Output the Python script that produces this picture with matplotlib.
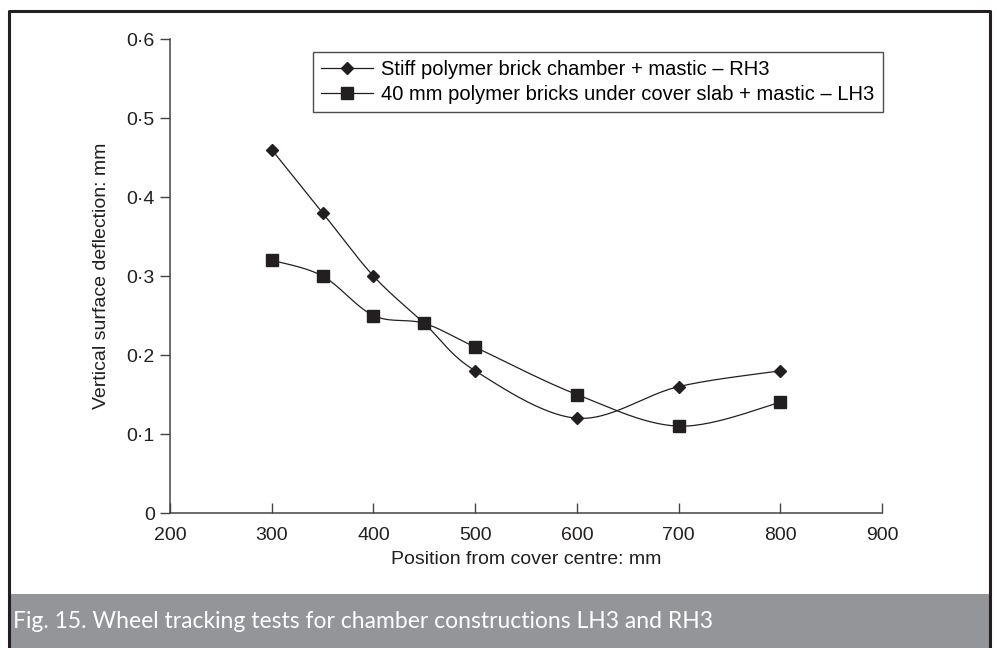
import numpy as np
import matplotlib.pyplot as plt
from matplotlib.patches import Rectangle

# Data
position = [300, 350, 400, 450, 500, 600, 700, 800]
rh3 = [0.46, 0.38, 0.30, 0.24, 0.18, 0.12, 0.16, 0.18]
lh3 = [0.32, 0.30, 0.25, 0.24, 0.21, 0.15, 0.11, 0.14]
xticks = [200, 300, 400, 500, 600, 700, 800, 900]
yticks = [0, 0.1, 0.2, 0.3, 0.4, 0.5, 0.6]
ytick_labels = ['0', '0·1', '0·2', '0·3', '0·4', '0·5', '0·6']

label_rh3 = 'Stiff polymer brick chamber + mastic – RH3'
label_lh3 = '40 mm polymer bricks under cover slab + mastic – LH3'
caption = 'Fig. 15. Wheel tracking tests for chamber constructions LH3 and RH3'

ink = '#231f20'
plt.rcParams['font.family'] = ['Liberation Sans', 'DejaVu Sans']


# Excel-like smoothed line (Catmull-Rom through the points)
def smooth(x, y, n=30):
    x = np.asarray(x, float)
    y = np.asarray(y, float)
    px = np.concatenate([[x[0]], x, [x[-1]]])
    py = np.concatenate([[y[0]], y, [y[-1]]])
    xs, ys = [], []
    t = np.linspace(0, 1, n)
    for i in range(1, len(px) - 2):
        p0, p1, p2, p3 = [np.array([px[j], py[j]]) for j in (i - 1, i, i + 1, i + 2)]
        c1 = p1 + (p2 - p0) / 6
        c2 = p2 - (p3 - p1) / 6
        b = ((1 - t) ** 3)[:, None] * p1 + (3 * (1 - t) ** 2 * t)[:, None] * c1 \
            + (3 * (1 - t) * t ** 2)[:, None] * c2 + (t ** 3)[:, None] * p2
        xs.append(b[:, 0])
        ys.append(b[:, 1])
    return np.concatenate(xs), np.concatenate(ys)


fig = plt.figure(figsize=(9.97, 6.48), dpi=100)
ax = fig.add_axes([0.1705, 0.2083, 0.7142, 0.7315])

sx, sy = smooth(position, rh3)
ax.plot(sx, sy, color=ink, lw=0.9)
ax.plot(position, rh3, linestyle='none', marker='D', ms=6.5, color=ink)
sx, sy = smooth(position, lh3)
ax.plot(sx, sy, color=ink, lw=0.9)
ax.plot(position, lh3, linestyle='none', marker='s', ms=8, color=ink)

# legend handles
h1, = ax.plot([], [], color=ink, lw=0.9, marker='D', ms=6.5, label=label_rh3)
h2, = ax.plot([], [], color=ink, lw=0.9, marker='s', ms=8, label=label_lh3)
leg = ax.legend(handles=[h1, h2], loc='upper left', bbox_to_anchor=(0.2008, 0.972),
                frameon=True, fancybox=False, edgecolor=ink, fontsize=14.5,
                handlelength=2.6, handletextpad=0.4, borderpad=0.4, labelspacing=0.3,
                borderaxespad=0)
leg.get_frame().set_linewidth(1.0)

ax.set_xlim(200, 900)
ax.set_ylim(0, 0.6)
ax.set_xticks(xticks)
ax.set_yticks(yticks)
ax.set_yticklabels(ytick_labels)
ax.tick_params(axis='x', direction='in', length=7, width=1, color='#444444',
               labelsize=14, pad=10, labelcolor=ink)
ax.tick_params(axis='y', direction='out', length=7, width=1, color='#444444',
               labelsize=14, pad=4, labelcolor=ink)
for s in ['top', 'right']:
    ax.spines[s].set_visible(False)
for s in ['left', 'bottom']:
    ax.spines[s].set_color('#444444')
    ax.spines[s].set_linewidth(1.1)
ax.set_xlabel('Position from cover centre: mm', fontsize=14, color=ink, labelpad=5)
ax.set_ylabel('Vertical surface deflection: mm', fontsize=14, color=ink, labelpad=12)

# outer frame and caption band
W, H = 997, 648
fig.patches.append(Rectangle((9 / W, 0), 981 / W, 54 / H, transform=fig.transFigure,
                             facecolor='#939598', edgecolor='none', zorder=0))
fig.add_artist(plt.Line2D([9 / W, 9 / W, 990 / W, 990 / W], [0, 1 - 11 / H, 1 - 11 / H, 0],
                          transform=fig.transFigure, color=ink, lw=2.2))
fig.text(13 / W, 1 - 622 / H, caption, color='white', fontsize=16.5, va='center',
         family=['Lato', 'DejaVu Sans'])

fig.savefig('out.png', dpi=100)
